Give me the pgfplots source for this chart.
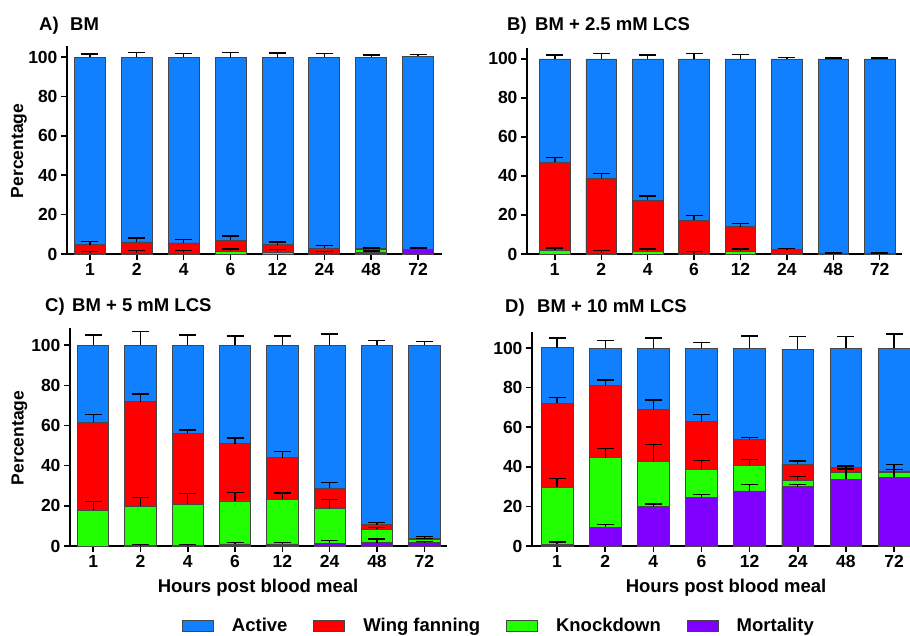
\documentclass[border=0pt]{standalone}
\usepackage{pgfplots}
\pgfplotsset{compat=1.18}
\usepackage{fontspec}
\setmainfont{Liberation Sans}
\definecolor{cA}{RGB}{17,128,255}
\definecolor{cW}{RGB}{255,0,0}
\definecolor{cK}{RGB}{34,255,0}
\definecolor{cM}{RGB}{127,0,255}
\definecolor{barline}{RGB}{70,70,70}
\newcommand{\tfont}{\fontsize{18.5}{19}\selectfont\bfseries}
\newcommand{\lfont}{\fontsize{17.5}{18}\selectfont\bfseries}
\pgfplotsset{
  panel/.style={scale only axis, axis lines*=left, ymin=0,
    xtick={0,...,7}, xticklabels={1,2,4,6,12,24,48,72},
    ytick={0,20,...,100}, tick align=outside, major tick length=6pt,
    axis line style={line width=1.8pt, black},
    tick style={line width=1.5pt, black},
    tick label style={font=\lfont},
    /pgf/number format/assume math mode=true,
    clip=false, anchor=south west},
  segbar/.style={ybar, bar width=0.66, bar shift=0pt, draw=barline, line width=0.8pt,
    error bars/y dir=plus, error bars/y explicit,
    error bars/error bar style={line width=1.3pt, black},
    error bars/error mark options={rotate=90, mark size=8.5pt, line width=1.3pt, black}},
}
\begin{document}
\begin{tikzpicture}
\useasboundingbox (0pt,0pt) rectangle (910pt,636pt);
% ---------------- A
\begin{axis}[panel, at={(67pt,382pt)}, width=375pt, height=208pt,
  xmin=-0.49, xmax=7.51, ymax=105.6]
\addplot[segbar, fill=cA] coordinates {(0,100)+-(0,1.6) (1,100)+-(0,2.2) (2,100)+-(0,1.9) (3,99.7)+-(0,2.5) (4,99.7)+-(0,2.3) (5,100)+-(0,1.7) (6,100)+-(0,1.0) (7,100.5)+-(0,0.8)};
\addplot[segbar, fill=cW] coordinates {(0,4.8)+-(0,1.4) (1,6.1)+-(0,2.0) (2,5.6)+-(0,1.7) (3,6.9)+-(0,2.2) (4,4.7)+-(0,1.4) (5,2.9)+-(0,1.5) (6,2.7)+-(0,0.3)};
\addplot[segbar, fill=cK] coordinates {(0,0.3)+-(0,1.0) (1,0.3)+-(0,1.6) (2,0.3)+-(0,1.6) (3,1.3)+-(0,1.2) (4,1.0)+-(0,1.2) (5,0.4)+-(0,0.9) (6,2.4)+-(0,0.5)};
\addplot[segbar, fill=cM] coordinates {(6,1.0)+-(0,0.5) (7,2.5)+-(0,0.5)};
\end{axis}
% ---------------- B
\begin{axis}[panel, at={(527pt,382pt)}, width=375pt, height=206pt,
  xmin=-0.6, xmax=7.48, ymax=105.6]
\addplot[segbar, fill=cA] coordinates {(0,100)+-(0,2.0) (1,100)+-(0,2.6) (2,100)+-(0,2.0) (3,100)+-(0,2.9) (4,100)+-(0,2.4) (5,100)+-(0,0.9) (6,100)+-(0,0.5) (7,100)+-(0,0.5)};
\addplot[segbar, fill=cW] coordinates {(0,47.1)+-(0,2.2) (1,38.7)+-(0,2.4) (2,27.6)+-(0,2.1) (3,17.2)+-(0,2.4) (4,14.0)+-(0,1.7) (5,2.2)+-(0,0.7) (6,0.1)+-(0,0.4) (7,0.1)+-(0,0.4)};
\addplot[segbar, fill=cK] coordinates {(0,1.9)+-(0,1.2) (1,0.3)+-(0,1.6) (2,1.4)+-(0,1.2) (3,0.2)+-(0,1.2) (4,1.4)+-(0,1.2)};
\end{axis}
% ---------------- C
\begin{axis}[panel, at={(70pt,90pt)}, width=377pt, height=218pt,
  xmin=-0.49, xmax=7.48, ymax=108.5,
  legend columns=4,
  legend image code/.code={\draw[#1] (0pt,-5.5pt) rectangle (31pt,5.5pt);},
  legend style={at={(axis description cs:0.297,-0.367)}, anchor=west,
    draw=none, fill=none, inner sep=0pt, font=\tfont,
    /tikz/every odd column/.append style={column sep=16pt},
    /tikz/every even column/.append style={column sep=24pt}},
  legend cell align=left]
\addlegendimage{fill=cA, draw=barline, line width=0.8pt}\addlegendentry{Active}
\addlegendimage{fill=cW, draw=barline, line width=0.8pt}\addlegendentry{Wing fanning}
\addlegendimage{fill=cK, draw=barline, line width=0.8pt}\addlegendentry{Knockdown}
\addlegendimage{fill=cM, draw=barline, line width=0.8pt}\addlegendentry{Mortality}
\addplot[segbar, fill=cA, forget plot] coordinates {(0,100)+-(0,5.0) (1,100)+-(0,6.8) (2,100)+-(0,5.0) (3,100)+-(0,4.5) (4,100)+-(0,4.5) (5,100)+-(0,5.5) (6,100)+-(0,2.3) (7,100)+-(0,1.8)};
\addplot[segbar, fill=cW, forget plot] coordinates {(0,61.6)+-(0,4.0) (1,71.9)+-(0,3.8) (2,56.1)+-(0,1.7) (3,51.0)+-(0,2.8) (4,43.9)+-(0,3.3) (5,28.9)+-(0,2.7) (6,10.6)+-(0,1.0) (7,3.7)+-(0,1.1)};
\addplot[segbar, fill=cK, forget plot] coordinates {(0,17.9)+-(0,4.4) (1,19.9)+-(0,4.4) (2,20.8)+-(0,5.3) (3,22.4)+-(0,4.3) (4,23.3)+-(0,3.1) (5,18.8)+-(0,4.3) (6,8.3)+-(0,0.8) (7,3.3)+-(0,0.5)};
\addplot[segbar, fill=cM, forget plot] coordinates {(1,0.2)+-(0,0.5) (2,0.2)+-(0,0.5) (3,1.0)+-(0,0.8) (4,1.0)+-(0,0.8) (5,1.3)+-(0,1.4) (6,1.7)+-(0,1.8) (7,1.7)+-(0,0.6)};
\end{axis}
% ---------------- D
\begin{axis}[panel, at={(532pt,90pt)}, width=378pt, height=214pt,
  xmin=-0.52, xmax=7.33, ymax=108.1]
\addplot[segbar, fill=cA] coordinates {(0,100.2)+-(0,4.8) (1,100)+-(0,3.7) (2,100)+-(0,5.0) (3,100)+-(0,2.9) (4,100)+-(0,6.1) (5,99.5)+-(0,6.2) (6,100)+-(0,5.9) (7,100)+-(0,7.1)};
\addplot[segbar, fill=cW] coordinates {(0,72.0)+-(0,3.0) (1,81.1)+-(0,2.7) (2,69.1)+-(0,4.7) (3,63.1)+-(0,3.4) (4,53.9)+-(0,1.0) (5,41.3)+-(0,1.6) (6,39.5)+-(0,0.7) (7,37.9)+-(0,0.8)};
\addplot[segbar, fill=cK] coordinates {(0,29.7)+-(0,4.4) (1,44.6)+-(0,4.7) (2,42.9)+-(0,8.5) (3,38.7)+-(0,4.6) (4,40.9)+-(0,2.7) (5,33.3)+-(0,1.7) (6,37.2)+-(0,3.4) (7,37.0)+-(0,1.7)};
\addplot[segbar, fill=cM] coordinates {(0,1.0)+-(0,1.0) (1,9.5)+-(0,1.3) (2,19.9)+-(0,1.3) (3,24.4)+-(0,1.7) (4,27.8)+-(0,3.4) (5,30.0)+-(0,1.0) (6,33.8)+-(0,5.1) (7,34.7)+-(0,6.6)};
\end{axis}
% ---------------- titles and labels
\node[anchor=base west, font=\tfont, inner sep=0pt] at (39pt,605pt) {A)};
\node[anchor=base west, font=\tfont, inner sep=0pt] at (70pt,605pt) {BM};
\node[anchor=base west, font=\tfont, inner sep=0pt] at (507pt,605pt) {B)};
\node[anchor=base west, font=\tfont, inner sep=0pt] at (535pt,605pt) {BM + 2.5 mM LCS};
\node[anchor=base west, font=\tfont, inner sep=0pt] at (45pt,324pt) {C)};
\node[anchor=base west, font=\tfont, inner sep=0pt] at (72pt,324pt) {BM + 5 mM LCS};
\node[anchor=base west, font=\tfont, inner sep=0pt] at (505pt,323pt) {D)};
\node[anchor=base west, font=\tfont, inner sep=0pt] at (537pt,323pt) {BM + 10 mM LCS};
\node[rotate=90, font=\lfont, inner sep=0pt] at (19pt,485pt) {Percentage};
\node[rotate=90, font=\lfont, inner sep=0pt] at (19.5pt,198pt) {Percentage};
\node[anchor=base, font=\tfont, inner sep=0pt] at (258pt,43pt) {Hours post blood meal};
\node[anchor=base, font=\tfont, inner sep=0pt] at (726pt,43pt) {Hours post blood meal};
\end{tikzpicture}
\end{document}
